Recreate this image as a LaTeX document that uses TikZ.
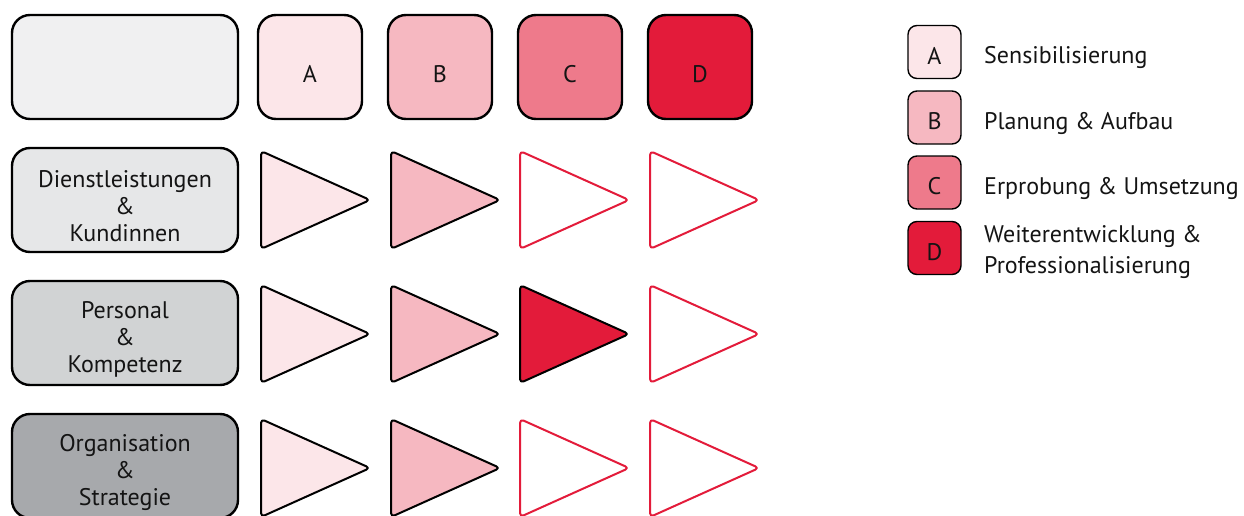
\documentclass[tikz,border=0pt]{standalone}
\usepackage{fontspec}
\setmainfont{PT Sans}
\definecolor{stufeA}{HTML}{FCE6E9}
\definecolor{stufeB}{HTML}{F6B8C1}
\definecolor{stufeC}{HTML}{EE7A8B}
\definecolor{stufeD}{HTML}{E31B3A}
\definecolor{eckfeld}{HTML}{F0F0F1}
\definecolor{zeileA}{HTML}{E6E7E8}
\definecolor{zeileB}{HTML}{D1D3D4}
\definecolor{zeileC}{HTML}{A7A9AC}
\begin{document}
\begin{tikzpicture}[x=1pt,y=-1pt,
	feld/.style={draw=black, line width=2.4pt, rounded corners=18pt, minimum width=226pt, minimum height=104pt, inner sep=0pt},
	kopf/.style={feld, minimum width=104pt},
	marke/.style={draw=black, line width=1.4pt, rounded corners=9pt, minimum width=53pt, minimum height=53pt, inner sep=0pt},
	schrift/.style={text=black!92, font=\fontsize{24}{27}\selectfont, align=center, yshift=-6pt},
	legtext/.style={text=black!92, font=\fontsize{24}{31}\selectfont, align=left, inner sep=0pt},
	dreieck/.style={line width=2pt, rounded corners=4pt, line join=round},
	voll/.style={dreieck, draw=black, fill=#1},
	leer/.style={dreieck, draw=stufeD, fill=white}]

	\clip (0,0) rectangle (1244,516);

	%Kopfzeile
	\node[feld, fill=eckfeld] (ecke) at (125,67) {};
	\node[kopf, fill=stufeA, label={[schrift, yshift=-1pt]center:A}] (kopfA) at (310,67) {};
	\node[kopf, fill=stufeB, label={[schrift, yshift=-1pt]center:B}] (kopfB) at (440,67) {};
	\node[kopf, fill=stufeC, label={[schrift, yshift=-1pt]center:C}] (kopfC) at (570,67) {};
	\node[kopf, fill=stufeD, label={[schrift, yshift=-1pt]center:D}] (kopfD) at (700,67) {};

	%Handlungsfelder
	\node[feld, fill=zeileA, label={[schrift]center:Dienstleistungen\\\&\\Kundinnen}] (dienst) at (125,200) {};
	\node[feld, fill=zeileB, label={[schrift]center:Personal\\\&\\Kompetenz}] (personal) at (125,333) {};
	\node[feld, fill=zeileC, label={[schrift]center:Organisation\\\&\\Strategie}] (orga) at (125,466) {};

	%Zeile 1
	\draw[voll=stufeA] (261,151) -- (370,200) -- (261,249) -- cycle;
	\draw[voll=stufeB] (391,151) -- (500,200) -- (391,249) -- cycle;
	\draw[leer] (520,151) -- (629,200) -- (520,249) -- cycle;
	\draw[leer] (650,151) -- (759,200) -- (650,249) -- cycle;

	%Zeile 2
	\draw[voll=stufeA] (261,285) -- (370,334) -- (261,383) -- cycle;
	\draw[voll=stufeB] (391,285) -- (500,334) -- (391,383) -- cycle;
	\draw[voll=stufeD] (520,285) -- (629,334) -- (520,383) -- cycle;
	\draw[leer] (650,285) -- (759,334) -- (650,383) -- cycle;

	%Zeile 3
	\draw[voll=stufeA] (261,419) -- (370,468) -- (261,517) -- cycle;
	\draw[voll=stufeB] (391,419) -- (500,468) -- (391,517) -- cycle;
	\draw[leer] (520,419) -- (629,468) -- (520,517) -- cycle;
	\draw[leer] (650,419) -- (759,468) -- (650,517) -- cycle;

	%Legende
	\node[marke, fill=stufeA, label={[schrift, yshift=2pt]center:A}] (legA) at (934.5,52) {};
	\node[marke, fill=stufeB, label={[schrift, yshift=2pt]center:B}] (legB) at (934.5,117.5) {};
	\node[marke, fill=stufeC, label={[schrift, yshift=2pt]center:C}] (legC) at (934.5,182.5) {};
	\node[marke, fill=stufeD, label={[schrift, yshift=2pt]center:D}] (legD) at (934.5,248) {};

	\node[legtext, anchor=base west] (txtA) at (984,64) {Sensibilisierung};
	\node[legtext, anchor=base west] (txtB) at (984,129) {Planung \& Aufbau};
	\node[legtext, anchor=base west] (txtC) at (984,194) {Erprobung \& Umsetzung};
	\node[legtext, anchor=west] (txtD) at (984,252) {Weiterentwicklung \&\\Professionalisierung};

\end{tikzpicture}
\end{document}
